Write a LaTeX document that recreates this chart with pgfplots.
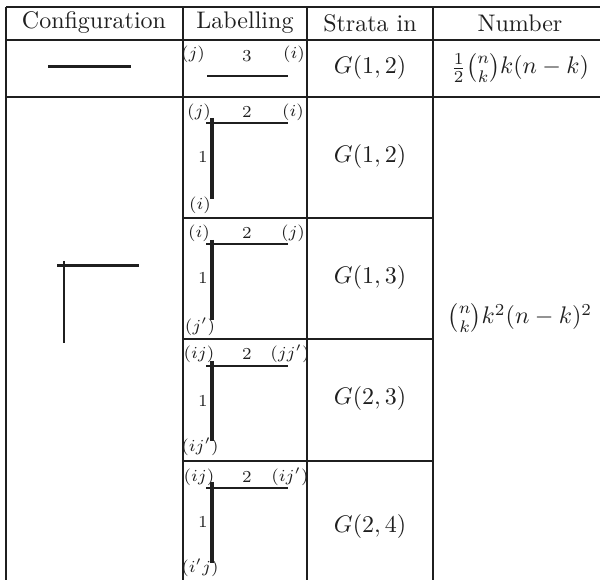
\documentclass[border=0pt]{standalone}
\usepackage{amsmath}
\usepackage{pgfplots}
\pgfplotsset{compat=1.18}
\begin{document}
\begin{tikzpicture}
\begin{axis}[
  x=0.4167pt, y=0.4167pt, y dir=reverse,
  xmin=0, xmax=600, ymin=0, ymax=580,
  hide axis, clip=true,
  unbounded coords=jump,
  every axis plot/.append style={black!88, no marks},
  nodes={inner sep=0.5pt, text=black!88},
]
% table rules
\addplot[line width=1pt] coordinates {
  (6,7)(610,7) (0,nan)
  (6,40)(610,40) (0,nan)
  (6,97)(610,97) (0,nan)
  (183,218)(433,218) (0,nan)
  (183,339)(433,339) (0,nan)
  (183,461)(433,461) (0,nan)
  (6,7)(6,590) (0,nan)
  (183,7)(183,590) (0,nan)
  (307,7)(307,590) (0,nan)
  (433,7)(433,590) (0,nan)
  (607,7)(607,590)};
% configurations
\addplot[line width=1.25pt] coordinates {(48,67)(131,67)};
\addplot[line width=1.25pt] coordinates {(57,266)(139,266)};
\addplot[line width=1.25pt] coordinates {(64,261)(64,343)};
% labellings: horizontal edges
\addplot[line width=1.2pt] coordinates {
  (207,76)(288,76) (0,nan)
  (206,123)(288,123) (0,nan)
  (206,244)(288,244) (0,nan)
  (206,366)(288,366) (0,nan)
  (206,488)(288,488)};
% labellings: vertical edges
\addplot[line width=1.6pt] coordinates {
  (212,118)(212,199) (0,nan)
  (212,240)(212,320) (0,nan)
  (212,361)(212,441) (0,nan)
  (212,482)(212,563)};
% header
\node at (94,23) {Configuration};
\node at (245,23) {Labelling};
\node at (370,23) {Strata in};
\node at (520,23) {Number};
% row 1
\node[font=\scriptsize] at (193,54) {$(j)$};
\node[font=\scriptsize] at (247,56) {$3$};
\node[font=\scriptsize] at (294,54) {$(i)$};
\node at (370,68) {$G(1,2)$};
\node at (520,68) {$\frac{1}{2}\binom{n}{k}k(n-k)$};
% row 2, labelling 1
\node[font=\scriptsize] at (199,112) {$(j)$};
\node[font=\scriptsize] at (247,112) {$2$};
\node[font=\scriptsize] at (293,112) {$(i)$};
\node[font=\scriptsize] at (203,157) {$1$};
\node[font=\scriptsize] at (200,205) {$(i)$};
\node at (370,157) {$G(1,2)$};
% labelling 2
\node[font=\scriptsize] at (199,233) {$(i)$};
\node[font=\scriptsize] at (247,233) {$2$};
\node[font=\scriptsize] at (293,233) {$(j)$};
\node[font=\scriptsize] at (203,278) {$1$};
\node[font=\scriptsize] at (200,327) {$(j')$};
\node at (370,278) {$G(1,3)$};
% labelling 3
\node[font=\scriptsize] at (199,354) {$(ij)$};
\node[font=\scriptsize] at (247,354) {$2$};
\node[font=\scriptsize] at (290,354) {$(jj')$};
\node[font=\scriptsize] at (203,401) {$1$};
\node[font=\scriptsize] at (200,447) {$(ij')$};
\node at (370,399) {$G(2,3)$};
% labelling 4
\node[font=\scriptsize] at (199,477) {$(ij)$};
\node[font=\scriptsize] at (247,477) {$2$};
\node[font=\scriptsize] at (290,477) {$(ij')$};
\node[font=\scriptsize] at (203,522) {$1$};
\node[font=\scriptsize] at (200,568) {$(i'j)$};
\node at (370,527) {$G(2,4)$};
% number for the merged row
\node at (520,318) {$\binom{n}{k}k^2(n-k)^2$};
\end{axis}
\pgfresetboundingbox
\useasboundingbox (current axis.south west) rectangle (current axis.north east);
\end{tikzpicture}
\end{document}
